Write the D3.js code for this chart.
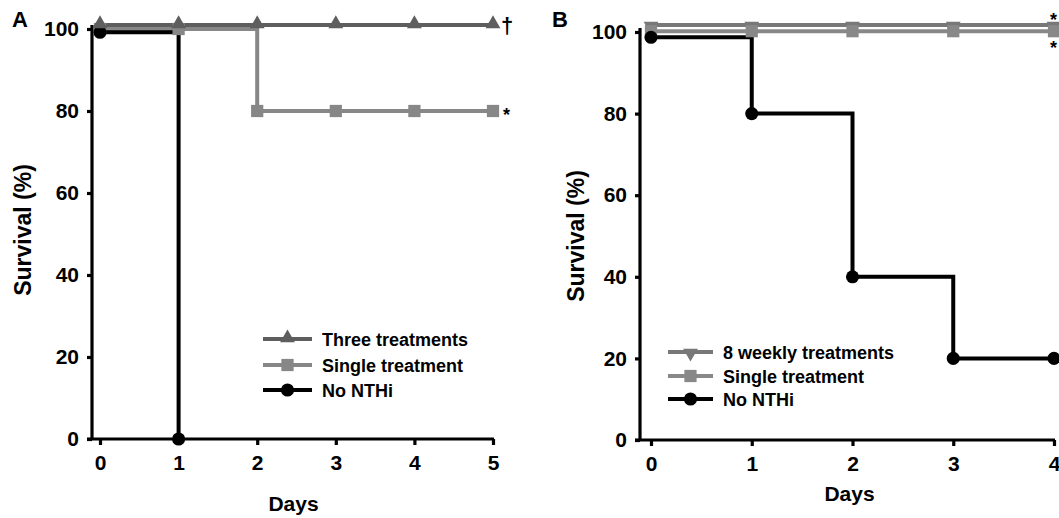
<!DOCTYPE html>
<html>
<head>
<meta charset="utf-8">
<script src="https://cdn.jsdelivr.net/npm/d3@7"></script>
<style>
  html, body { margin: 0; padding: 0; background: #fff; }
  svg { display: block; }
  text { font-family: "Liberation Sans", Arial, Helvetica, sans-serif; font-weight: bold; fill: #000; }
</style>
</head>
<body>
<svg id="chart" width="1059" height="518"></svg>
<script>
// ---------- DATA ----------
// Panel A
const daysA = [0, 1, 2, 3, 4, 5];
const threeTreatmentsA = [101, 101, 101, 101, 101, 101];
const singleTreatmentA = [100, 100, 80, 80, 80, 80];
const noNTHiDaysA = [0, 1];
const noNTHiA = [99.2, 0];
const yTicksA = [0, 20, 40, 60, 80, 100];
const xTicksA = [0, 1, 2, 3, 4, 5];
const legendA = ["Three treatments", "Single treatment", "No NTHi"];
const annotA = [{ label: "\u2020", day: 5, value: 101 }, { label: "*", day: 5, value: 80 }];

// Panel B
const daysB = [0, 1, 2, 3, 4];
const weeklyB = [101.7, 101.7, 101.7, 101.7, 101.7];
const singleTreatmentB = [100.2, 100.2, 100.2, 100.2, 100.2];
const noNTHiB = [98.7, 80, 40, 20, 20];
const yTicksB = [0, 20, 40, 60, 80, 100];
const xTicksB = [0, 1, 2, 3, 4];
const legendB = ["8 weekly treatments", "Single treatment", "No NTHi"];
const annotB = [{ label: "*", day: 4, value: 101.7, pos: "above" }, { label: "*", day: 4, value: 100.2, pos: "below" }];

// ---------- DRAW ----------
const svg = d3.select("#chart");

const symTri = d3.symbol().type(d3.symbolTriangle).size(95);
const symSq = d3.symbol().type(d3.symbolSquare).size(150);
const symCirc = d3.symbol().type(d3.symbolCircle).size(135);

function panel(cfg) {
  const g = svg.append("g");
  const x = d3.scaleLinear().domain(cfg.xDomain).range(cfg.xRange);
  const y = d3.scaleLinear().domain([0, 100]).range(cfg.yRange);

  // y axis
  const ya = g.append("g").attr("transform", `translate(${cfg.yAxisX},0)`)
    .call(d3.axisLeft(y).tickValues(cfg.yTicks).tickFormat(d3.format("d"))
      .tickSize(5).tickSizeOuter(0).tickPadding(8));
  ya.select(".domain").attr("d", `M0,${y(100) - 4}V${y(0)}`);
  // x axis
  const xa = g.append("g").attr("transform", `translate(0,${y(0)})`)
    .call(d3.axisBottom(x).tickValues(cfg.xTicks).tickFormat(d3.format("d"))
      .tickSize(6).tickSizeOuter(0).tickPadding(10));
  xa.select(".domain").attr("d", `M${cfg.yAxisX - 5},0H${x(cfg.xDomain[1]) + 1}`);
  [ya, xa].forEach(a => {
    a.selectAll(".domain, .tick line").attr("stroke", "#000").attr("stroke-width", 3.2);
    a.selectAll(".tick text").style("font-size", "21px").attr("fill", "#000");
  });

  // titles
  g.append("text").attr("x", (x.range()[0] + x.range()[1]) / 2 - 3).attr("y", cfg.daysY)
    .attr("text-anchor", "middle").style("font-size", "21px").text("Days");
  g.append("text").attr("transform", `translate(${cfg.survX},${cfg.survY}) rotate(-90)`)
    .attr("text-anchor", "middle").style("font-size", "23px").text("Survival (%)");
  g.append("text").attr("x", cfg.letterX).attr("y", 27).style("font-size", "22px").text(cfg.letter);

  const line = d3.line().curve(d3.curveStepAfter).x(d => x(d[0])).y(d => y(d[1]));

  // lines
  cfg.series.forEach(s => {
    const pts = s.days.map((d, i) => [d, s.values[i]]);
    g.append("path").attr("d", line(pts)).attr("fill", "none")
      .attr("stroke", s.color).attr("stroke-width", 4);
  });
  // markers
  cfg.series.slice().sort((a, b) => a.z - b.z).forEach(s => {
    const pts = s.days.map((d, i) => [d, s.values[i]]);
    g.selectAll(null).data(pts).enter().append("path")
      .attr("d", s.sym)
      .attr("transform", d => `translate(${x(d[0])},${y(d[1]) + (s.symDy || 0)}) rotate(${s.rot || 0})`)
      .attr("fill", s.color);
  });

  // legend
  cfg.series.forEach((s, i) => {
    const ly = cfg.legendY[i];
    g.append("line").attr("x1", cfg.legendX[0]).attr("x2", cfg.legendX[1])
      .attr("y1", ly).attr("y2", ly).attr("stroke", s.color).attr("stroke-width", 4);
    g.append("path").attr("d", s.sym)
      .attr("transform", `translate(${(cfg.legendX[0] + cfg.legendX[1]) / 2},${ly + (s.symDy || 0)}) rotate(${s.rot || 0})`)
      .attr("fill", s.color);
    g.append("text").attr("x", cfg.legendX[1] + 10).attr("y", ly + 6.5)
      .style("font-size", "18px").text(s.label);
  });

  // annotations
  cfg.annot.forEach(a => {
    const t = g.append("text").text(a.label);
    if (a.label === "\u2020") {
      t.attr("x", x(a.day) + 8).attr("y", y(a.value) + 8).style("font-size", "22px");
    } else if (a.pos === "above") {
      t.attr("x", x(a.day) - 4).attr("y", y(a.value) + 1).style("font-size", "18px");
    } else if (a.pos === "below") {
      t.attr("x", x(a.day) - 4).attr("y", y(a.value) + 23).style("font-size", "18px");
    } else {
      t.attr("x", x(a.day) + 10).attr("y", y(a.value) + 10).style("font-size", "18px");
    }
  });
}

panel({
  letter: "A", letterX: 12,
  xDomain: [0, 5], xRange: [100, 493], yRange: [439, 29], yAxisX: 92,
  xTicks: xTicksA, yTicks: yTicksA,
  daysY: 511, survX: 31, survY: 230,
  legendX: [263, 312], legendY: [339, 365, 390],
  series: [
    { label: legendA[0], days: daysA, values: threeTreatmentsA, color: "#5e5e5e", sym: symTri(), symDy: -1, z: 3 },
    { label: legendA[1], days: daysA, values: singleTreatmentA, color: "#878787", sym: symSq(), z: 1 },
    { label: legendA[2], days: noNTHiDaysA, values: noNTHiA, color: "#000", sym: symCirc(), z: 2 }
  ],
  annot: annotA
});

panel({
  letter: "B", letterX: 552,
  xDomain: [0, 4], xRange: [651, 1054], yRange: [440, 32], yAxisX: 640,
  xTicks: xTicksB, yTicks: yTicksB,
  daysY: 501, survX: 584, survY: 236,
  legendX: [668, 713], legendY: [352, 376, 399],
  series: [
    { label: legendB[0], days: daysB, values: weeklyB, color: "#787878", sym: symTri(), rot: 180, symDy: 1, z: 1 },
    { label: legendB[1], days: daysB, values: singleTreatmentB, color: "#888888", sym: symSq(), z: 2 },
    { label: legendB[2], days: daysB, values: noNTHiB, color: "#000", sym: symCirc(), z: 3 }
  ],
  annot: annotB
});
</script>
</body>
</html>
